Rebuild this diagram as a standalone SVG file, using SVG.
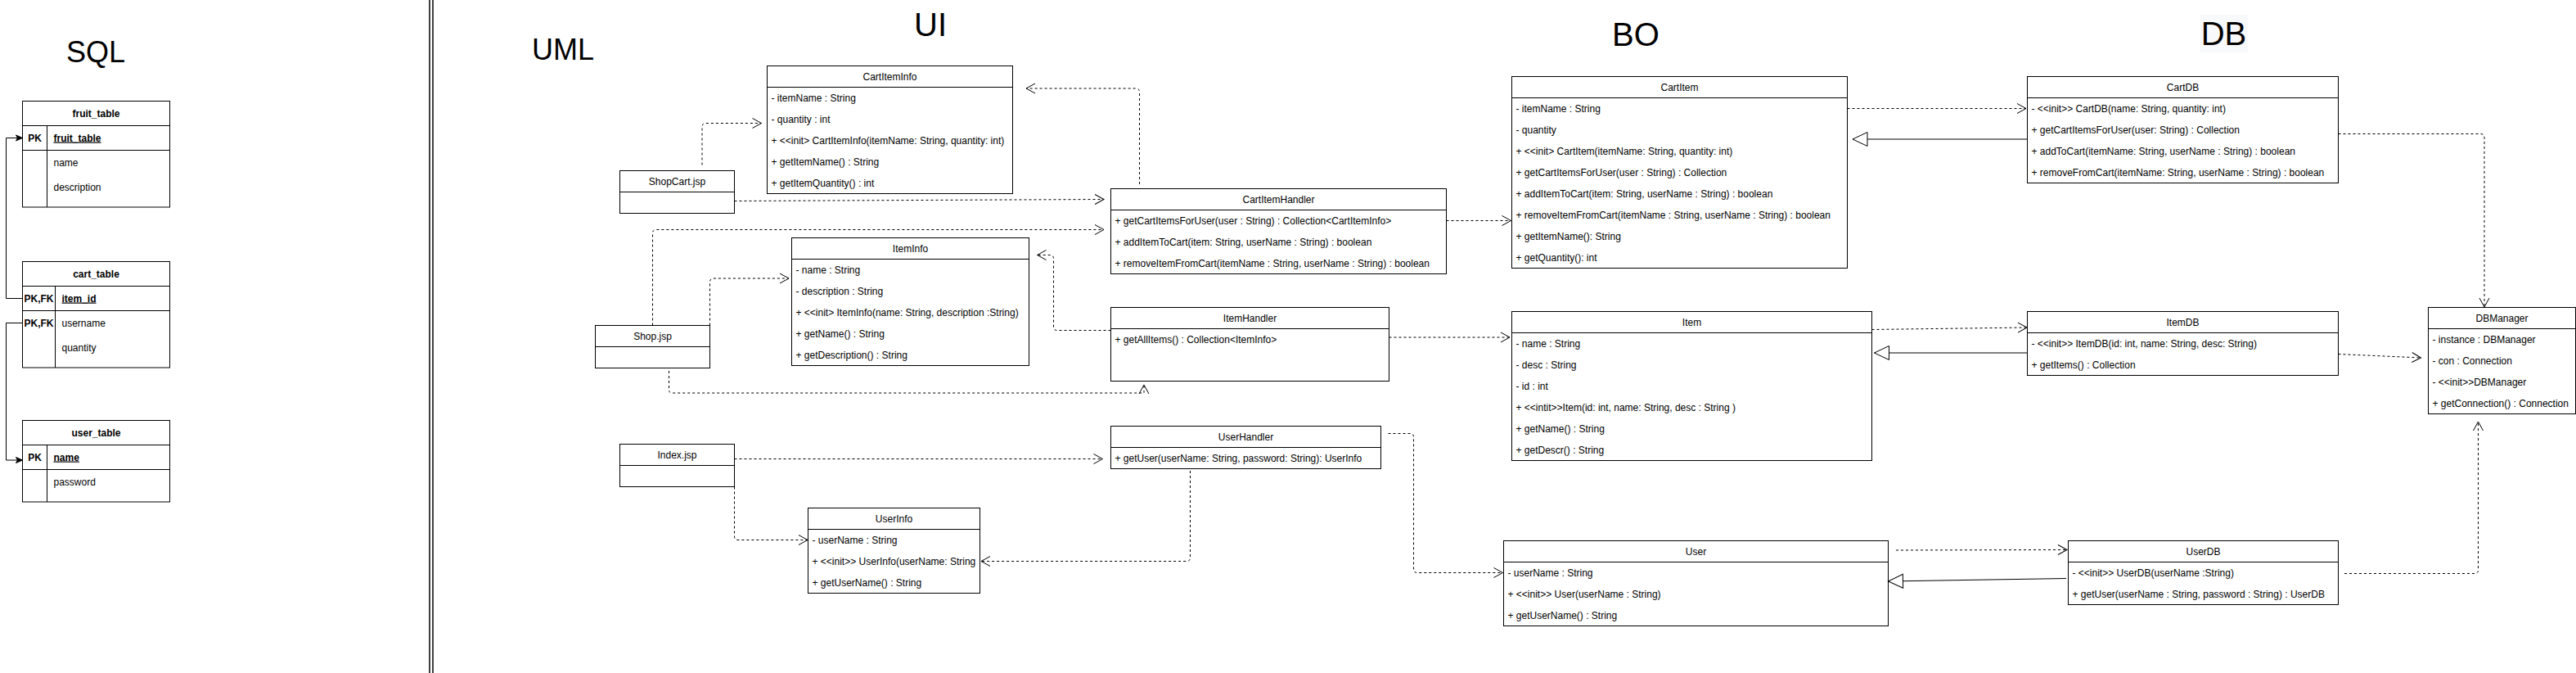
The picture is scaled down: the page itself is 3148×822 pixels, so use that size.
<svg xmlns="http://www.w3.org/2000/svg" width="3148" height="822" viewBox="0 0 3148 822">
<style>
text{font-family:"Liberation Sans",Arial,Helvetica,sans-serif;font-size:12px;fill:#000}
.h{text-anchor:middle}
.b{font-weight:bold}
.u{text-decoration:underline}
.t36{font-size:36px}
.t40{font-size:40px}
.n rect{fill:#fff;stroke:#000;stroke-width:1}
.n line{stroke:#000;stroke-width:1}
#edges path{fill:none;stroke:#000;stroke-width:1}
#edges .d{stroke-dasharray:3 3;marker-end:url(#open)}
#edges .g{marker-end:url(#tri)}
#edges .k{marker-end:url(#blk)}
</style>
<defs>
<marker id="open" viewBox="0 0 12 12" markerWidth="12" markerHeight="12" refX="11" refY="6" orient="auto" markerUnits="userSpaceOnUse" overflow="visible"><path d="M0,0 L11,6 L0,12" fill="none" stroke="#000" stroke-width="1"/></marker>
<marker id="tri" viewBox="0 0 18 17" markerWidth="18" markerHeight="17" refX="18" refY="8.5" orient="auto" markerUnits="userSpaceOnUse" overflow="visible"><path d="M0,0 L18,8.5 L0,17 Z" fill="#fff" stroke="#000" stroke-width="1"/></marker>
<marker id="blk" viewBox="0 0 8 8" markerWidth="8" markerHeight="8" refX="8" refY="4" orient="auto" markerUnits="userSpaceOnUse" overflow="visible"><path d="M0,0.5 L8,4 L0,7.5 L2,4 Z" fill="#000" stroke="#000" stroke-width="1"/></marker>
</defs>
<rect x="0" y="0" width="3148" height="822" fill="#fff"/>

<!-- titles -->
<g id="titles">
<text class="t36 h" x="117" y="75.5">SQL</text>
<text class="t36" x="650" y="73">UML</text>
<text class="t40 h" x="1137" y="44">UI</text>
<text class="t40 h" x="1999" y="55.7">BO</text>
<rect x="2689" y="18" width="58" height="46" fill="#f8f9fa"/>
<text class="t40 h" x="2717.5" y="55">DB</text>
</g>

<!-- divider -->
<g id="divider">
<line x1="525" y1="0" x2="525" y2="822" stroke="#000" stroke-width="1.5"/>
<line x1="529" y1="0" x2="529" y2="822" stroke="#000" stroke-width="1.5"/>
</g>

<!-- SQL tables -->
<g id="fruit_table" class="n">
<rect x="27.5" y="123.5" width="180" height="129.5"/>
<line x1="27.5" y1="153.5" x2="207.5" y2="153.5"/>
<line x1="27.5" y1="183.5" x2="207.5" y2="183.5"/>
<line x1="57.5" y1="153.5" x2="57.5" y2="253"/>
<text class="h b" x="117.5" y="142.5">fruit_table</text>
<text class="h b" x="42.5" y="172.5">PK</text>
<text class="b u" x="65.5" y="172.5">fruit_table</text>
<text x="65.5" y="202.5">name</text>
<text x="65.5" y="232.5">description</text>
</g>
<g id="cart_table" class="n">
<rect x="27.5" y="319.5" width="180" height="129.5"/>
<line x1="27.5" y1="349.5" x2="207.5" y2="349.5"/>
<line x1="27.5" y1="379.5" x2="207.5" y2="379.5"/>
<line x1="67.5" y1="349.5" x2="67.5" y2="449"/>
<text class="h b" x="117.5" y="338.5">cart_table</text>
<text class="h b" x="47.5" y="368.5">PK,FK</text>
<text class="b u" x="75.5" y="368.5">item_id</text>
<text class="h b" x="47.5" y="398.5">PK,FK</text>
<text x="75.5" y="398.5">username</text>
<text x="75.5" y="428.5">quantity</text>
</g>
<g id="user_table" class="n">
<rect x="27.5" y="513.5" width="180" height="99.5"/>
<line x1="27.5" y1="543.5" x2="207.5" y2="543.5"/>
<line x1="27.5" y1="573.5" x2="207.5" y2="573.5"/>
<line x1="57.5" y1="543.5" x2="57.5" y2="613"/>
<text class="h b" x="117.5" y="532.5">user_table</text>
<text class="h b" x="42.5" y="562.5">PK</text>
<text class="b u" x="65.5" y="562.5">name</text>
<text x="65.5" y="592.5">password</text>
</g>

<!-- UI -->
<g id="CartItemInfo" class="n">
<rect x="937.5" y="80.5" width="300" height="156"/>
<line x1="937.5" y1="106.5" x2="1237.5" y2="106.5"/>
<text class="h" x="1087.5" y="97.5">CartItemInfo</text>
<text x="942.5" y="123.5">- itemName : String</text>
<text x="942.5" y="149.5">- quantity : int</text>
<text x="942.5" y="175.5">+ &lt;&lt;init&gt; CartItemInfo(itemName: String, quantity: int)</text>
<text x="942.5" y="201.5">+ getItemName() : String</text>
<text x="942.5" y="227.5">+ getItemQuantity() : int</text>
</g>
<g id="ShopCart" class="n">
<rect x="757.5" y="208.5" width="140" height="52"/>
<line x1="757.5" y1="234.5" x2="897.5" y2="234.5"/>
<text class="h" x="827.5" y="225.5">ShopCart.jsp</text>
</g>
<g id="CartItemHandler" class="n">
<rect x="1357.5" y="230.5" width="410" height="104"/>
<line x1="1357.5" y1="256.5" x2="1767.5" y2="256.5"/>
<text class="h" x="1562.5" y="247.5">CartItemHandler</text>
<text x="1362.5" y="273.5">+ getCartItemsForUser(user : String) : Collection&lt;CartItemInfo&gt;</text>
<text x="1362.5" y="299.5">+ addItemToCart(item: String, userName : String) : boolean</text>
<text x="1362.5" y="325.5">+ removeItemFromCart(itemName : String, userName : String) : boolean</text>
</g>
<g id="ItemInfo" class="n">
<rect x="967.5" y="290.5" width="290" height="156"/>
<line x1="967.5" y1="316.5" x2="1257.5" y2="316.5"/>
<text class="h" x="1112.5" y="307.5">ItemInfo</text>
<text x="972.5" y="333.5">- name : String</text>
<text x="972.5" y="359.5">- description : String</text>
<text x="972.5" y="385.5">+ &lt;&lt;init&gt; ItemInfo(name: String, description :String)</text>
<text x="972.5" y="411.5">+ getName() : String</text>
<text x="972.5" y="437.5">+ getDescription() : String</text>
</g>
<g id="Shop" class="n">
<rect x="727.5" y="397.5" width="140" height="52"/>
<line x1="727.5" y1="423.5" x2="867.5" y2="423.5"/>
<text class="h" x="797.5" y="414.5">Shop.jsp</text>
</g>
<g id="ItemHandler" class="n">
<rect x="1357.5" y="375.5" width="340" height="90"/>
<line x1="1357.5" y1="401.5" x2="1697.5" y2="401.5"/>
<text class="h" x="1527.5" y="392.5">ItemHandler</text>
<text x="1362.5" y="418.5">+ getAllItems() : Collection&lt;ItemInfo&gt;</text>
</g>
<g id="Index" class="n">
<rect x="757.5" y="542.5" width="140" height="52"/>
<line x1="757.5" y1="568.5" x2="897.5" y2="568.5"/>
<text class="h" x="827.5" y="559.5">Index.jsp</text>
</g>
<g id="UserHandler" class="n">
<rect x="1357.5" y="520.5" width="330" height="52"/>
<line x1="1357.5" y1="546.5" x2="1687.5" y2="546.5"/>
<text class="h" x="1522.5" y="537.5">UserHandler</text>
<text x="1362.5" y="563.5">+ getUser(userName: String, password: String): UserInfo</text>
</g>
<g id="UserInfo" class="n">
<rect x="987.5" y="620.5" width="210" height="104"/>
<line x1="987.5" y1="646.5" x2="1197.5" y2="646.5"/>
<text class="h" x="1092.5" y="637.5">UserInfo</text>
<text x="992.5" y="663.5">- userName : String</text>
<text x="992.5" y="689.5">+ &lt;&lt;init&gt;&gt; UserInfo(userName: String</text>
<text x="992.5" y="715.5">+ getUserName() : String</text>
</g>

<!-- BO -->
<g id="CartItem" class="n">
<rect x="1847.5" y="93.5" width="410" height="234"/>
<line x1="1847.5" y1="119.5" x2="2257.5" y2="119.5"/>
<text class="h" x="2052.5" y="110.5">CartItem</text>
<text x="1852.5" y="136.5">- itemName : String</text>
<text x="1852.5" y="162.5">- quantity</text>
<text x="1852.5" y="188.5">+ &lt;&lt;init&gt; CartItem(itemName: String, quantity: int)</text>
<text x="1852.5" y="214.5">+ getCartItemsForUser(user : String) : Collection</text>
<text x="1852.5" y="240.5">+ addItemToCart(item: String, userName : String) : boolean</text>
<text x="1852.5" y="266.5">+ removeItemFromCart(itemName : String, userName : String) : boolean</text>
<text x="1852.5" y="292.5">+ getItemName(): String</text>
<text x="1852.5" y="318.5">+ getQuantity(): int</text>
</g>
<g id="Item" class="n">
<rect x="1847.5" y="380.5" width="440" height="182"/>
<line x1="1847.5" y1="406.5" x2="2287.5" y2="406.5"/>
<text class="h" x="2067.5" y="397.5">Item</text>
<text x="1852.5" y="423.5">- name : String</text>
<text x="1852.5" y="449.5">- desc : String</text>
<text x="1852.5" y="475.5">- id : int</text>
<text x="1852.5" y="501.5">+ &lt;&lt;intit&gt;&gt;Item(id: int, name: String, desc : String )</text>
<text x="1852.5" y="527.5">+ getName() : String</text>
<text x="1852.5" y="553.5">+ getDescr() : String</text>
</g>
<g id="User" class="n">
<rect x="1837.5" y="660.5" width="470" height="104"/>
<line x1="1837.5" y1="686.5" x2="2307.5" y2="686.5"/>
<text class="h" x="2072.5" y="677.5">User</text>
<text x="1842.5" y="703.5">- userName : String</text>
<text x="1842.5" y="729.5">+ &lt;&lt;init&gt;&gt; User(userName : String)</text>
<text x="1842.5" y="755.5">+ getUserName() : String</text>
</g>

<!-- DB -->
<g id="CartDB" class="n">
<rect x="2477.5" y="93.5" width="380" height="130"/>
<line x1="2477.5" y1="119.5" x2="2857.5" y2="119.5"/>
<text class="h" x="2667.5" y="110.5">CartDB</text>
<text x="2482.5" y="136.5">- &lt;&lt;init&gt;&gt; CartDB(name: String, quantity: int)</text>
<text x="2482.5" y="162.5">+ getCartItemsForUser(user: String) : Collection</text>
<text x="2482.5" y="188.5">+ addToCart(itemName: String, userName : String) : boolean</text>
<text x="2482.5" y="214.5">+ removeFromCart(itemName: String, userName : String) : boolean</text>
</g>
<g id="ItemDB" class="n">
<rect x="2477.5" y="380.5" width="380" height="78"/>
<line x1="2477.5" y1="406.5" x2="2857.5" y2="406.5"/>
<text class="h" x="2667.5" y="397.5">ItemDB</text>
<text x="2482.5" y="423.5">- &lt;&lt;init&gt;&gt; ItemDB(id: int, name: String, desc: String)</text>
<text x="2482.5" y="449.5">+ getItems() : Collection</text>
</g>
<g id="UserDB" class="n">
<rect x="2527.5" y="660.5" width="330" height="78"/>
<line x1="2527.5" y1="686.5" x2="2857.5" y2="686.5"/>
<text class="h" x="2692.5" y="677.5">UserDB</text>
<text x="2532.5" y="703.5">- &lt;&lt;init&gt;&gt; UserDB(userName :String)</text>
<text x="2532.5" y="729.5">+ getUser(userName : String, password : String) : UserDB</text>
</g>
<g id="DBManager" class="n">
<rect x="2967.5" y="375.5" width="180" height="130"/>
<line x1="2967.5" y1="401.5" x2="3147.5" y2="401.5"/>
<text class="h" x="3057.5" y="392.5">DBManager</text>
<text x="2972.5" y="418.5">- instance : DBManager</text>
<text x="2972.5" y="444.5">- con : Connection</text>
<text x="2972.5" y="470.5">- &lt;&lt;init&gt;&gt;DBManager</text>
<text x="2972.5" y="496.5">+ getConnection() : Connection</text>
</g>

<!-- connectors -->
<g id="edges">
<path class="k" d="M27.5 364.5 H7.5 V168.5 H27.5"/>
<path class="k" d="M27.5 394.5 H7.5 V562 H27.5"/>

<path class="d" d="M858 201.5 V155 Q858 150.5 862.5 150.5 H930.5"/>
<path class="d" d="M897.5 245.5 L1349 243.5"/>
<path class="d" d="M797.5 397.5 V285 Q797.5 280.5 802 280.5 H1349"/>
<path class="d" d="M867.5 397.5 V344.5 Q867.5 340 872 340 H964"/>
<path class="d" d="M817.5 453 V476 Q817.5 480 821.5 480 H1398 V470"/>
<path class="d" d="M1357.5 403.5 H1292 Q1287.5 403.5 1287.5 399 V316 Q1287.5 311.5 1283 311.5 H1267.5"/>
<path class="d" d="M1392.5 225 V112.5 Q1392.5 108 1388 108 H1254"/>
<path class="d" d="M897.5 560.5 H1347.5"/>
<path class="d" d="M897.5 594.5 V655 Q897.5 659.5 902 659.5 H987"/>
<path class="d" d="M1454.5 575 V681 Q1454.5 685.5 1450 685.5 H1199"/>
<path class="d" d="M1696.5 529.5 H1723 Q1727.5 529.5 1727.5 534 V695 Q1727.5 699.5 1732 699.5 H1836.5"/>

<path class="d" d="M1767.5 269.5 H1846.5"/>
<path class="d" d="M1697.5 412 H1845"/>
<path class="d" d="M2257.5 132.5 H2476"/>
<path class="d" d="M2287.5 402.5 L2477 400"/>
<path class="d" d="M2317 672 L2526 671.5"/>

<path class="d" d="M2857.5 163.5 H3031.5 Q3036 163.5 3036 168 V375"/>
<path class="d" d="M2857.5 432.5 L2958.5 437"/>
<path class="d" d="M2865 700.5 H3024 Q3028.5 700.5 3028.5 696 V515"/>

<path class="g" d="M2477.5 170 H2264"/>
<path class="g" d="M2477.5 431 H2290.5"/>
<path class="g" d="M2525 706.5 L2307.5 710"/>
</g>
</svg>
